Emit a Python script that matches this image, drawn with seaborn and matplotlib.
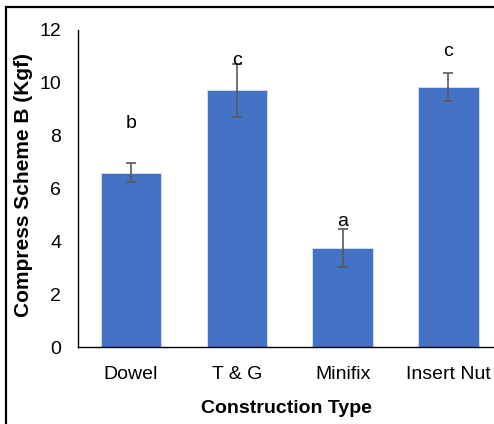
import numpy as np
import pandas as pd
import matplotlib
matplotlib.use("Agg")
import matplotlib.pyplot as plt
from matplotlib.patches import Rectangle
import seaborn as sns

types = ["Dowel", "T & G", "Minifix", "Insert Nut"]
means = [6.6, 9.72, 3.75, 9.85]
errs = [0.36, 1.0, 0.73, 0.53]
letters = ["b", "c", "a", "c"]
letter_y = [8.45, 10.85, 4.75, 11.2]

df = pd.DataFrame({"type": types, "mean": means})

sns.set_style("white")
plt.rcParams["font.family"] = ["Liberation Sans", "DejaVu Sans"]

fig = plt.figure(figsize=(4.94, 4.24), dpi=100)
ax = fig.add_axes([78 / 494, 77 / 424, (494 - 78) / 494, 317 / 424])

sns.barplot(data=df, x="type", y="mean", color="#4472C4", saturation=1,
            width=0.57, errorbar=None, edgecolor="#d9e2f3", linewidth=0.6, ax=ax)
xpos = np.arange(len(types))
ax.errorbar(xpos, means, yerr=errs, fmt="none", ecolor="#595959",
            elinewidth=1.2, capsize=3.5, capthick=1.2)
for x, lab, y in zip(xpos, letters, letter_y):
    ax.text(x, y, lab, ha="center", va="center", fontsize=14, color="black")

ax.set_xlim(-0.5, 3.43)
ax.set_ylim(0, 12)
ax.set_yticks(range(0, 13, 2))
ax.tick_params(axis="y", length=0, pad=12, labelsize=14, labelcolor="black")
ax.tick_params(axis="x", length=0, pad=14, labelsize=14, labelcolor="black")
for s in ["top", "right"]:
    ax.spines[s].set_visible(False)
for s in ["left", "bottom"]:
    ax.spines[s].set_color("black")
    ax.spines[s].set_linewidth(1.0)

ax.set_xlabel("Construction Type", fontsize=14, fontweight="bold",
              labelpad=12, color="black")
ax.set_ylabel("Compress Scheme B (Kgf)", fontsize=15, fontweight="bold",
              color="black")
ax.yaxis.set_label_coords(-0.108, 0.51)

# outer frame of the chart area (cropped on the right and bottom)
fig.add_artist(Rectangle((5.5 / 494, -0.1), 1.2, (424 - 7.5) / 424 + 0.1,
                         transform=fig.transFigure, fill=False,
                         edgecolor="black", linewidth=1.6))

fig.savefig("out.png", dpi=100)
